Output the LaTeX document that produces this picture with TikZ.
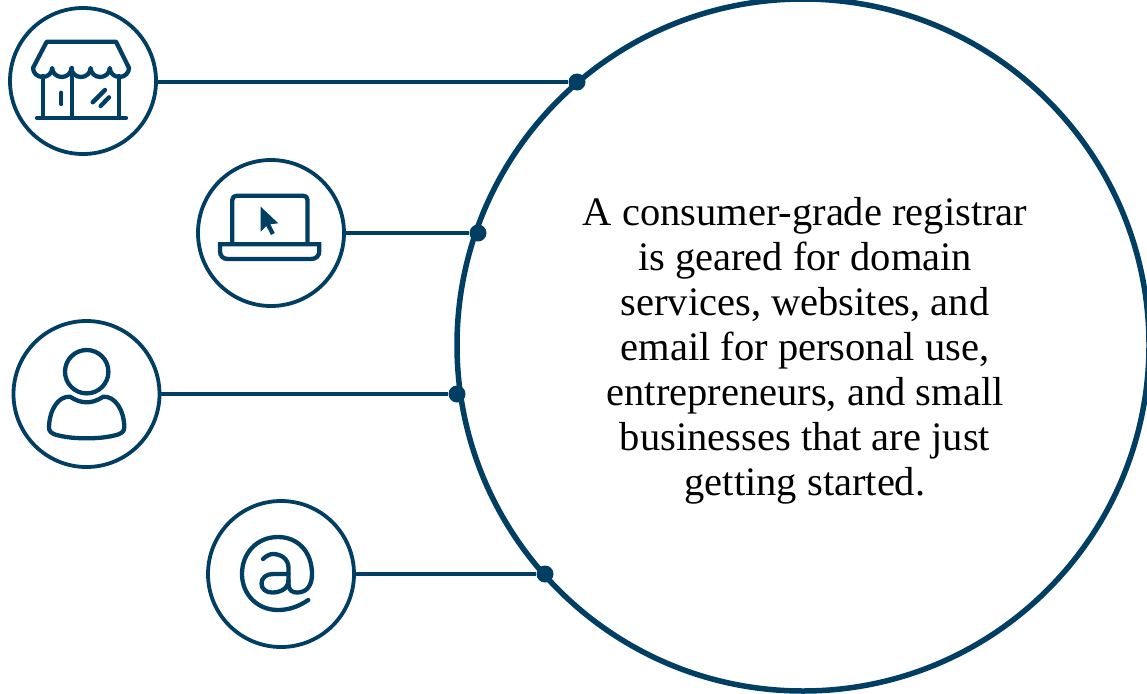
\documentclass[tikz,border=0pt]{standalone}
\usepackage{fontspec}
\setmainfont{Liberation Serif}
\definecolor{navy}{HTML}{003F63}
\tikzset{
  iconring/.style={circle,draw=navy,line width=3.8pt,fill=white,minimum size=146pt,inner sep=0pt,outer sep=0pt},
  bigring/.style={circle,draw=navy,line width=5.5pt,fill=white,minimum size=692pt,inner sep=0pt,outer sep=0pt},
  joint/.style={circle,fill=navy,minimum size=17pt,inner sep=0pt},
  link/.style={draw=navy,line width=3.5pt},
  glyph/.style={draw=navy,line width=4.3pt,line cap=round,line join=round},
  bodytext/.style={align=center,text=black,font=\fontsize{40.5}{45}\selectfont}
}
\begin{document}
\begin{tikzpicture}[x=1pt,y=-1pt]
\useasboundingbox (0,0) rectangle (1147,693);
\node[bigring] (big) at (803,345) {};
\node[bodytext] (txt) at (805,351) {A consumer-grade registrar\\is geared for domain\\services, websites, and\\email for personal use,\\entrepreneurs, and small\\businesses that are just\\getting started.};
\node[iconring] (c1) at (83,81) {};
\node[iconring] (c2) at (271,233) {};
\node[iconring] (c3) at (86.5,394) {};
\node[iconring] (c4) at (281,574) {};
\node[joint] (d1) at (577,82) {};
\node[joint] (d2) at (478,233) {};
\node[joint] (d3) at (457,394) {};
\node[joint] (d4) at (545,574) {};
\draw[link] (c1.east |- d1) -- (d1);
\draw[link] (c2) ++(74,0) -- (d2);
\draw[link] (c3) ++(74,0) -- (d3);
\draw[link] (c4) ++(74,0) -- (d4);
% store
\draw[glyph] (46.7,41.7) -- (116,41.7) -- (129,68)
  arc[start angle=0,end angle=180,x radius=9.6,y radius=9]
  arc[start angle=0,end angle=180,x radius=9.6,y radius=9]
  arc[start angle=0,end angle=180,x radius=9.6,y radius=9]
  arc[start angle=0,end angle=180,x radius=9.6,y radius=9]
  arc[start angle=0,end angle=180,x radius=9.6,y radius=9]
  -- cycle;
\draw[glyph] (42.7,76) -- (42.7,118);
\draw[glyph] (119,76) -- (119,118);
\draw[glyph] (71.7,68) -- (71.7,118);
\draw[glyph] (37,118) -- (126,118);
\draw[glyph] (61.3,92.7) -- (61.3,104);
\draw[glyph] (105,90) -- (92.7,102.3);
\draw[glyph] (109,97.3) -- (100.7,106);
% laptop
\draw[glyph,line cap=butt] (232.3,244) -- (232.3,200) .. controls (232.3,197) and (234,195.7) .. (237,195.7) -- (303,195.7) .. controls (306,195.7) and (307.5,197) .. (307.5,200) -- (307.5,244);
\draw[glyph,line join=miter] (220,244.3) -- (319.3,244.3) -- (319.3,251) .. controls (319.3,256) and (316,259) .. (311,259) -- (228,259) .. controls (223,259) and (220,256) .. (220,251) -- cycle;
\fill[navy] (260.7,206.7) -- (260.7,231.7) -- (266.3,226) -- (271,235) -- (274.7,233) -- (270.3,224.3) -- (278.3,223.3) -- cycle;
% person
\draw[glyph] (86.7,371.7) circle[radius=21.7];
\draw[glyph] (70,396.7) .. controls (76,400.5) and (81,402.3) .. (86.7,402.3) .. controls (92.4,402.3) and (97.4,400.5) .. (103.3,396.7)
  .. controls (115,396) and (124,410) .. (124.3,427) .. controls (124.5,431) and (122,433) .. (118,434.5)
  .. controls (108,437.5) and (97,438.3) .. (86.7,438.3) .. controls (76,438.3) and (65,437.5) .. (55,434.5)
  .. controls (51,433) and (48.8,431) .. (49,427) .. controls (49.5,410) and (58,396) .. (70,396.7) -- cycle;
% at sign
\draw[glyph] (308.3,600) .. controls (298,607) and (288,610) .. (278,610)
  .. controls (257,610) and (242,594) .. (242,574)
  .. controls (242,553) and (257,537) .. (278,537)
  .. controls (298,537) and (312,552) .. (312,574)
  .. controls (312,584) and (308,592) .. (298,592.5)
  .. controls (292,593) and (288.5,590) .. (288.5,584)
  -- (288.5,568) .. controls (288.5,558) and (280,554) .. (273,554) .. controls (270,554) and (266,556) .. (263,559);
\draw[glyph] (288.5,574) -- (273,574) .. controls (266,574) and (261.5,578) .. (261.5,583.5) .. controls (261.5,589) and (266,592.5) .. (272,592.5) .. controls (280,592.5) and (288.5,589) .. (288.5,580);
\end{tikzpicture}
\end{document}
